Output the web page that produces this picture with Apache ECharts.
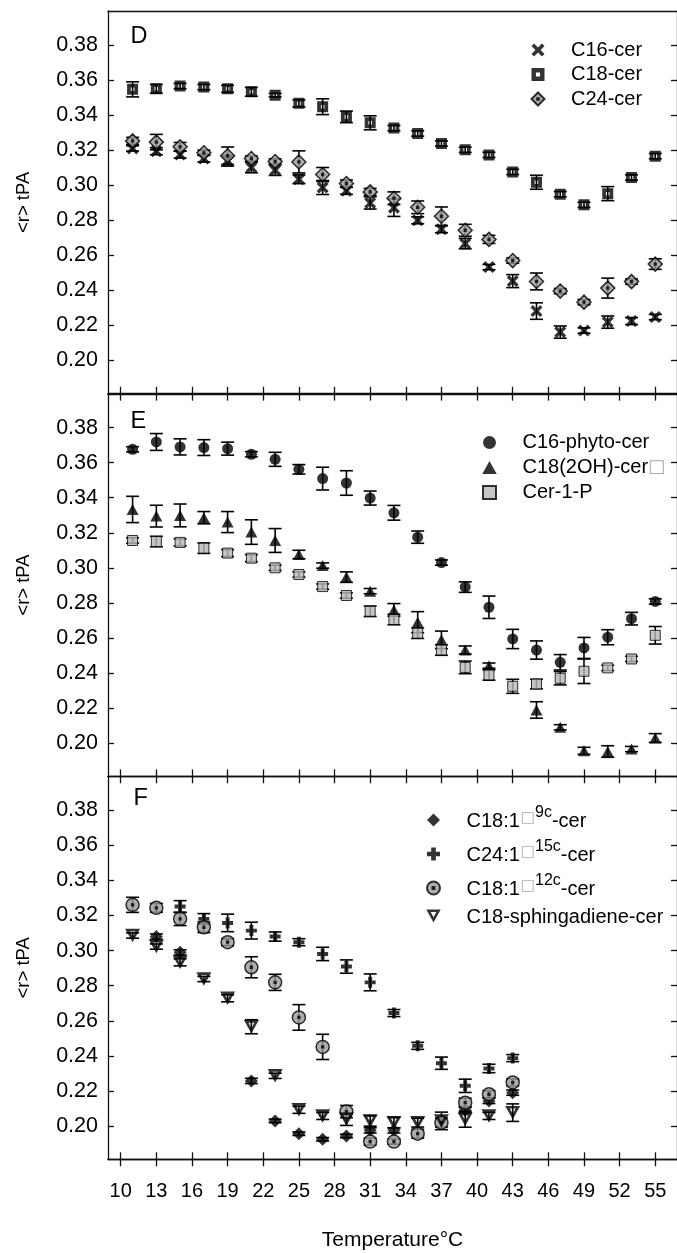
<!DOCTYPE html>
<html>
<head>
<meta charset="utf-8">
<script src="https://cdn.jsdelivr.net/npm/echarts@6/dist/echarts.min.js"></script>
<style>
html,body{margin:0;padding:0;background:#fff;}
#c{width:677px;height:1253px;}
</style>
</head>
<body>
<div id="c"></div>
<script>
// ---------- data ----------
const temps = [11,13,15,17,19,21,23,25,27,29,31,33,35,37,39,41,43,45,47,49,51,53,55];
const tempsF = [11,13,15,17,19,21,23,25,27,29,31,33,35,37,39,41,43];
const xTicks = [10,13,16,19,22,25,28,31,34,37,40,43,46,49,52,55];
const yTicks = [0.20,0.22,0.24,0.26,0.28,0.30,0.32,0.34,0.36,0.38];

// Panel D
const c16cer    = [0.321,0.3194,0.3175,0.3152,0.3139,0.3101,0.3086,0.3034,0.2987,0.2968,0.2899,0.2872,0.280,0.2749,0.2667,0.2533,0.2453,0.2282,0.2162,0.2171,0.2219,0.2225,0.2248];
const c16cerErr = [0.0015,0.002,0.002,0.002,0.003,0.003,0.003,0.0025,0.004,0.002,0.0035,0.005,0.002,0.002,0.003,0.0015,0.0037,0.0047,0.0035,0.0015,0.0035,0.002,0.0015];
const c18cer    = [0.3547,0.355,0.3566,0.356,0.355,0.3533,0.3514,0.3467,0.3448,0.339,0.3356,0.3326,0.3295,0.3238,0.3202,0.3173,0.3076,0.3017,0.2949,0.2888,0.2952,0.3044,0.3166];
const c18cerErr = [0.0043,0.0025,0.0015,0.0015,0.002,0.0025,0.001,0.002,0.0045,0.0033,0.004,0.0015,0.0015,0.0015,0.0015,0.0015,0.0015,0.004,0.0015,0.0015,0.004,0.0015,0.0015];
const c24cer    = [0.3253,0.3246,0.3219,0.3185,0.3168,0.3152,0.3135,0.3133,0.3061,0.301,0.2962,0.2926,0.2874,0.2823,0.2743,0.2691,0.257,0.2451,0.2396,0.2333,0.2413,0.245,0.255];
const c24cerErr = [0.002,0.0044,0.0025,0.0015,0.005,0.0015,0.0015,0.0063,0.004,0.002,0.002,0.0036,0.0036,0.0053,0.0034,0.0023,0.0015,0.0048,0.0015,0.0015,0.0057,0.0015,0.003];

// Panel E
const phyto    = [0.3676,0.3718,0.369,0.3686,0.368,0.3648,0.3619,0.3562,0.3509,0.3484,0.3398,0.3314,0.3175,0.303,0.289,0.2775,0.2594,0.2531,0.2461,0.2543,0.2604,0.271,0.2808];
const phytoErr = [0.0015,0.0048,0.0046,0.0045,0.0037,0.0015,0.004,0.0027,0.0065,0.007,0.004,0.0042,0.0035,0.0015,0.003,0.0064,0.0055,0.0052,0.0044,0.006,0.0043,0.0036,0.0015];
const oh2      = [0.3333,0.3295,0.3299,0.3286,0.3261,0.3204,0.3156,0.3076,0.3013,0.2947,0.2867,0.276,0.269,0.2589,0.2531,0.2442,null,0.2189,0.209,0.1956,0.1952,0.1966,0.2029];
const oh2Err   = [0.0075,0.0062,0.0065,0.0035,0.006,0.007,0.0068,0.0024,0.0015,0.003,0.0015,0.0036,0.006,0.005,0.0023,0.0015,null,0.0047,0.0015,0.002,0.0033,0.0015,0.0025];
const cer1p    = [0.3156,0.315,0.3145,0.3112,0.3084,0.3055,0.300,0.2962,0.2893,0.2842,0.2752,0.2705,0.2627,0.2531,0.2432,0.2389,0.2324,0.2337,0.237,0.241,0.2429,0.248,0.2615];
const cer1pErr = [0.0015,0.003,0.002,0.003,0.002,0.002,0.0015,0.0015,0.0015,0.0015,0.003,0.003,0.003,0.003,0.0036,0.003,0.004,0.0027,0.0038,0.007,0.0015,0.0015,0.005];

// Panel F
const d9c      = [null,0.308,0.299,null,null,0.2257,0.2029,0.1956,0.1924,0.1943,0.1975,0.1975,null,null,0.209,0.2143,0.219];
const d9cErr   = [null,0.0015,0.0015,null,null,0.0015,0.001,0.001,0.001,0.001,0.0015,0.0015,null,null,0.0015,0.0015,0.0015];
const d15c     = [null,null,0.3251,0.3181,0.3158,0.3114,0.308,0.3048,0.2981,0.2909,0.2819,0.2644,0.2457,0.2358,0.2229,0.2328,0.2387];
const d15cErr  = [null,null,0.0034,0.003,0.005,0.0048,0.0026,0.002,0.0038,0.0038,0.0048,0.002,0.002,0.0035,0.0038,0.0024,0.002];
const d12c     = [0.3261,0.3244,0.3181,0.3133,0.3048,0.2905,0.2819,0.2619,0.2451,0.2082,0.1911,0.1911,0.1956,0.2019,0.2133,0.2181,0.2248];
const d12cErr  = [0.0043,0.0025,0.0038,0.003,0.002,0.006,0.0046,0.0073,0.0072,0.0035,0.002,0.0015,0.0025,0.0025,0.0025,0.002,0.002];
const sphing   = [0.3086,0.3023,0.2933,0.2838,0.2728,0.2566,0.2286,0.2092,0.2057,0.2038,0.2029,0.2019,0.2019,0.2029,0.2038,0.2057,0.2076];
const sphingErr= [0.0015,0.0015,0.002,0.0015,0.002,0.004,0.0015,0.002,0.002,0.0035,0.003,0.003,0.0025,0.005,0.0045,0.002,0.005];

// ---------- styling ----------
const FONT = 'Liberation Sans, Arial, Helvetica, sans-serif';
const XMIN = 8.93, XMAX = 56.83, YMIN = 0.181, YMAX = 0.3994;
const LINE = {color:'#111', width:1.3};
const SYM = {
  x:      'path://M0,2L2,0L5,3L8,0L10,2L7,5L10,8L8,10L5,7L2,10L0,8L3,5Z',
  sqHole: 'path://M0,0L10,0L10,10L0,10Z M3.4,3.4L3.4,6.6L6.6,6.6L6.6,3.4Z',
  diaDot: 'path://M5,0L10,5L5,10L0,5Z M4.35,4.35L5.65,4.35L5.65,5.65L4.35,5.65Z',
  tri:    'path://M5,0L10,9L0,9Z',
  sq:     'path://M0,0L10,0L10,10L0,10Z',
  dia:    'path://M5,0L10,5L5,10L0,5Z',
  plus:   'path://M3.2,0L6.8,0L6.8,3.2L10,3.2L10,6.8L6.8,6.8L6.8,10L3.2,10L3.2,6.8L0,6.8L0,3.2L3.2,3.2Z',
  circDot:'path://M0,5A5,5 0 1,1 10,5A5,5 0 1,1 0,5Z M4.3,4.3L5.7,4.3L5.7,5.7L4.3,5.7Z',
  invTri: 'path://M0,0L10,0L5,9Z M3.06,1.8L5,5.29L6.94,1.8Z'
};

const grids = [
  {left:108, width:571, top:11,    height:382.8},
  {left:108, width:571, top:393.6, height:382.8},
  {left:108, width:571, top:776.3, height:383}
];

function xAx(gridIndex, position, tickMode, labels) {
  const o = {
    type:'value', gridIndex, position, min:XMIN, max:XMAX,
    axisLine:{show:true, onZero:false, lineStyle:LINE},
    splitLine:{show:false},
    axisTick:{show: tickMode !== 'none', inside: tickMode === 'in', length:7, lineStyle:LINE, customValues:xTicks},
    axisLabel:{show:!!labels, customValues:xTicks, fontSize:20, fontFamily:FONT, color:'#000', margin:22},
  };
  if (labels) {
    o.name = 'Temperature°C';
    o.nameLocation = 'middle';
    o.nameGap = 70;
    o.nameTextStyle = {fontSize:21, fontFamily:FONT, color:'#000'};
  }
  return o;
}
const xAxis = [
  xAx(0,'top','none'),        // 0
  xAx(0,'bottom','in'),       // 1  D series
  xAx(1,'top','in'),          // 2
  xAx(1,'bottom','in'),       // 3  E series
  xAx(2,'top','in'),          // 4
  xAx(2,'bottom','out',true), // 5  F series
  xAx(2,'bottom','in')        // 6
];
function yAx(gridIndex, position) {
  const left = position === 'left';
  const o = {
    type:'value', gridIndex, position, min:YMIN, max:YMAX,
    axisLine:{show:true, onZero:false, lineStyle:LINE},
    splitLine:{show:false},
    axisTick:{show:true, inside:true, length:6, lineStyle:LINE, customValues:yTicks},
    axisLabel:{show:left, customValues:yTicks, fontSize:21.5, fontFamily:FONT, color:'#000', margin:10,
               formatter:v => v.toFixed(2)}
  };
  if (left) {
    o.name = '<r> tPA';
    o.nameLocation = 'middle';
    o.nameGap = 75;
    o.nameTextStyle = {fontSize:18.5, fontFamily:FONT, color:'#000'};
  }
  return o;
}
const yAxis = [yAx(0,'left'), yAx(0,'right'), yAx(1,'left'), yAx(1,'right'), yAx(2,'left'), yAx(2,'right')];

function errSeries(xs, ys, es, xi, yi) {
  const data = [];
  xs.forEach((x,i) => { if (ys[i] != null && es[i] != null) data.push([x, ys[i], es[i]]); });
  return {
    type:'custom', xAxisIndex:xi, yAxisIndex:yi, data, silent:true, z:2,
    encode:{x:0, y:1},
    renderItem(params, api) {
      const x = api.value(0), y = api.value(1), e = api.value(2);
      const t = api.coord([x, y + e]), b = api.coord([x, y - e]);
      const hw = 6.5, st = {stroke:'#000', lineWidth:1.6};
      return {type:'group', children:[
        {type:'line', shape:{x1:t[0], y1:t[1], x2:b[0], y2:b[1]}, style:st},
        {type:'line', shape:{x1:t[0]-hw, y1:t[1], x2:t[0]+hw, y2:t[1]}, style:st},
        {type:'line', shape:{x1:b[0]-hw, y1:b[1], x2:b[0]+hw, y2:b[1]}, style:st}
      ]};
    }
  };
}
function ptSeries(name, xs, ys, xi, yi, symbol, size, itemStyle) {
  const data = [];
  xs.forEach((x,i) => { if (ys[i] != null) data.push([x, ys[i]]); });
  return {type:'scatter', name, xAxisIndex:xi, yAxisIndex:yi, data, symbol, symbolSize:size,
          itemStyle, z:3, emphasis:{disabled:true}, silent:true};
}

const series = [];
function add(name, xs, ys, es, xi, yi, symbol, size, itemStyle) {
  series.push(errSeries(xs, ys, es, xi, yi));
  series.push(ptSeries(name, xs, ys, xi, yi, symbol, size, itemStyle));
}
// D
add('C16-cer', temps, c16cer, c16cerErr, 1, 0, SYM.x, 12, {color:'#000'});
add('C18-cer', temps, c18cer, c18cerErr, 1, 0, SYM.sqHole, 11, {color:'#000'});
add('C24-cer', temps, c24cer, c24cerErr, 1, 0, SYM.diaDot, 14, {color:'#9a9a9a', borderColor:'#000', borderWidth:1.5});
// E
add('C16-phyto-cer', temps, phyto, phytoErr, 3, 2, 'circle', 11, {color:'#000'});
add('C18(2OH)-cer□', temps, oh2, oh2Err, 3, 2, SYM.tri, [12,11], {color:'#000'});
add('Cer-1-P', temps, cer1p, cer1pErr, 3, 2, SYM.sq, 10, {color:'#b8b8b8', borderColor:'#000', borderWidth:1});
// F
add('C18:1□9c-cer', tempsF, d9c, d9cErr, 5, 4, SYM.dia, 13, {color:'#000'});
add('C24:1□15c-cer', tempsF, d15c, d15cErr, 5, 4, SYM.plus, 11, {color:'#000'});
add('C18:1□12c-cer', tempsF, d12c, d12cErr, 5, 4, SYM.circDot, 13, {color:'#9a9a9a', borderColor:'#000', borderWidth:1.5});
add('C18-sphingadiene-cer', tempsF, sphing, sphingErr, 5, 4, SYM.invTri, [15,13.5], {color:'#000'});

const legendBase = {orient:'vertical', itemWidth:56, itemHeight:13, padding:0, selectedMode:false,
  textStyle:{fontSize:20, lineHeight:21, fontFamily:FONT, color:'#000'}};

const legendF = Object.assign({}, legendBase, {
  left:426, top:805, itemGap:8,
  data:['C18:1□9c-cer','C24:1□15c-cer','C18:1□12c-cer','C18-sphingadiene-cer'],
  formatter(name) {
    const m = name.match(/^(C\d+:1)□(\d+c)(-cer)$/);
    if (m) return '{n|' + m[1] + '}{b|□}{s|' + m[2] + '}{n|' + m[3] + '}';
    return '{n|' + name + '}';
  },
  textStyle:{fontSize:20, fontFamily:FONT, color:'#000', rich:{
    n:{fontSize:20, lineHeight:22, fontFamily:FONT, color:'#000', verticalAlign:'bottom'},
    b:{fontSize:15, lineHeight:15, fontFamily:'DejaVu Sans', color:'#aaa', padding:[0,0,5,1], verticalAlign:'bottom'},
    s:{fontSize:16, lineHeight:16, fontFamily:FONT, color:'#000', padding:[0,0,10,0], verticalAlign:'bottom'}
  }}
});

const legendE = Object.assign({}, legendBase, {
  left:482, top:432, itemGap:4,
  data:['C16-phyto-cer','C18(2OH)-cer□','Cer-1-P'],
  formatter(name) {
    if (name.endsWith('□')) return '{n|' + name.slice(0,-1) + '}{b|□}';
    return '{n|' + name + '}';
  },
  textStyle:{fontSize:20, lineHeight:21, fontFamily:FONT, color:'#000', rich:{
    n:{fontSize:20, lineHeight:21, fontFamily:FONT, color:'#000'},
    b:{fontSize:18, lineHeight:21, fontFamily:'DejaVu Sans', color:'#aaa'}
  }}
});

const legendD = Object.assign({}, legendBase, {
  left:530.5, top:39.5, itemGap:3.5,
  data:['C16-cer','C18-cer','C24-cer']
});

const panelLetters = ['D','E','F'];
const title = [
  {text:panelLetters[0], left:130.5, top:24.5},
  {text:panelLetters[1], left:130.5, top:409.5},
  {text:panelLetters[2], left:133.5, top:786.5}
].map(t => Object.assign(t, {padding:0, textStyle:{fontSize:23.5, fontWeight:'normal', fontFamily:FONT, color:'#000'}}));

const chart = echarts.init(document.getElementById('c'), null, {renderer:'canvas'});
chart.setOption({
  animation:false,
  backgroundColor:'#fff',
  title,
  grid:grids,
  xAxis, yAxis,
  legend:[legendD, legendE, legendF],
  series
});
</script>
</body>
</html>
